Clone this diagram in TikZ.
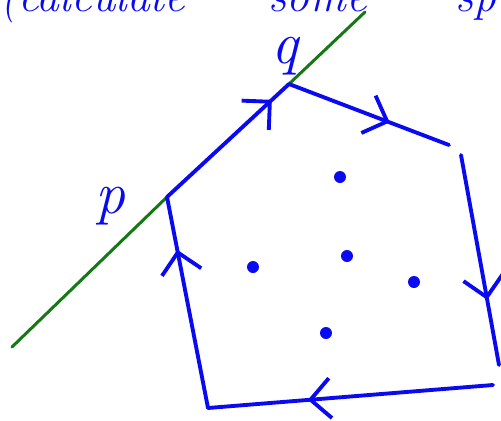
\documentclass[tikz,border=0pt]{standalone}
\usetikzlibrary{arrows.meta,decorations.markings}
\definecolor{penblue}{RGB}{10,10,240}
\definecolor{pengreen}{RGB}{20,120,20}
\tikzset{
  edge/.style={penblue,line width=2.2pt,line cap=round},
  ray/.style={pengreen,line width=1.7pt,line cap=round},
  flow/.style={postaction={decorate},decoration={markings,
    mark=at position #1 with {\arrow{Straight Barb[length=4mm,width=8mm,line width=2.2pt]}}}},
  pole/.style={circle,fill=penblue,inner sep=0pt,minimum size=2.4mm},
  hand/.style={text=penblue,font=\fontsize{34}{34}\selectfont\itshape},
  scrawl/.style={anchor=base west,inner sep=0pt,text=penblue,font=\fontsize{26}{26}\selectfont\itshape}
}
\begin{document}
\begin{tikzpicture}[x=0.02cm,y=-0.02cm]
\useasboundingbox (0,0) rectangle (501,420);
% corners of the contour
\coordinate (a) at (12,347);
\coordinate (p) at (167,197);
\coordinate (q) at (289,84);
\coordinate (b) at (365,12);
\coordinate (c1) at (449,145);
\coordinate (c2) at (461,155);
\coordinate (c3) at (499,365);
\coordinate (c4) at (493,385);
\coordinate (c5) at (208,408);
% the line through p and q
\draw[ray] (a) -- (p);
\draw[ray] (q) -- (b);
% contour
\draw[edge,flow=0.86] (p) -- (q);
\draw[edge,flow=0.63] (q) -- (c1);
\draw[edge,flow=0.69] (c2) -- (c3);
\draw[edge,flow=0.65] (c4) -- (c5);
\draw[edge,flow=0.75] (c5) -- (p);
% poles inside
\node[pole] (d1) at (340,177) {};
\node[pole] (d2) at (347,256) {};
\node[pole] (d3) at (253,267) {};
\node[pole] (d4) at (414,282) {};
\node[pole] (d5) at (326,333) {};
% labels
\node[hand] (lp) at (110,206) {p};
\node[hand] (lq) at (285,56) {q};
% heading, cut off at the top
\node[scrawl] (w1) at (0,11) {(calculate};
\node[scrawl] (w2) at (268,11) {some};
\node[scrawl] (w3) at (455,11) {sp};
\end{tikzpicture}
\end{document}
